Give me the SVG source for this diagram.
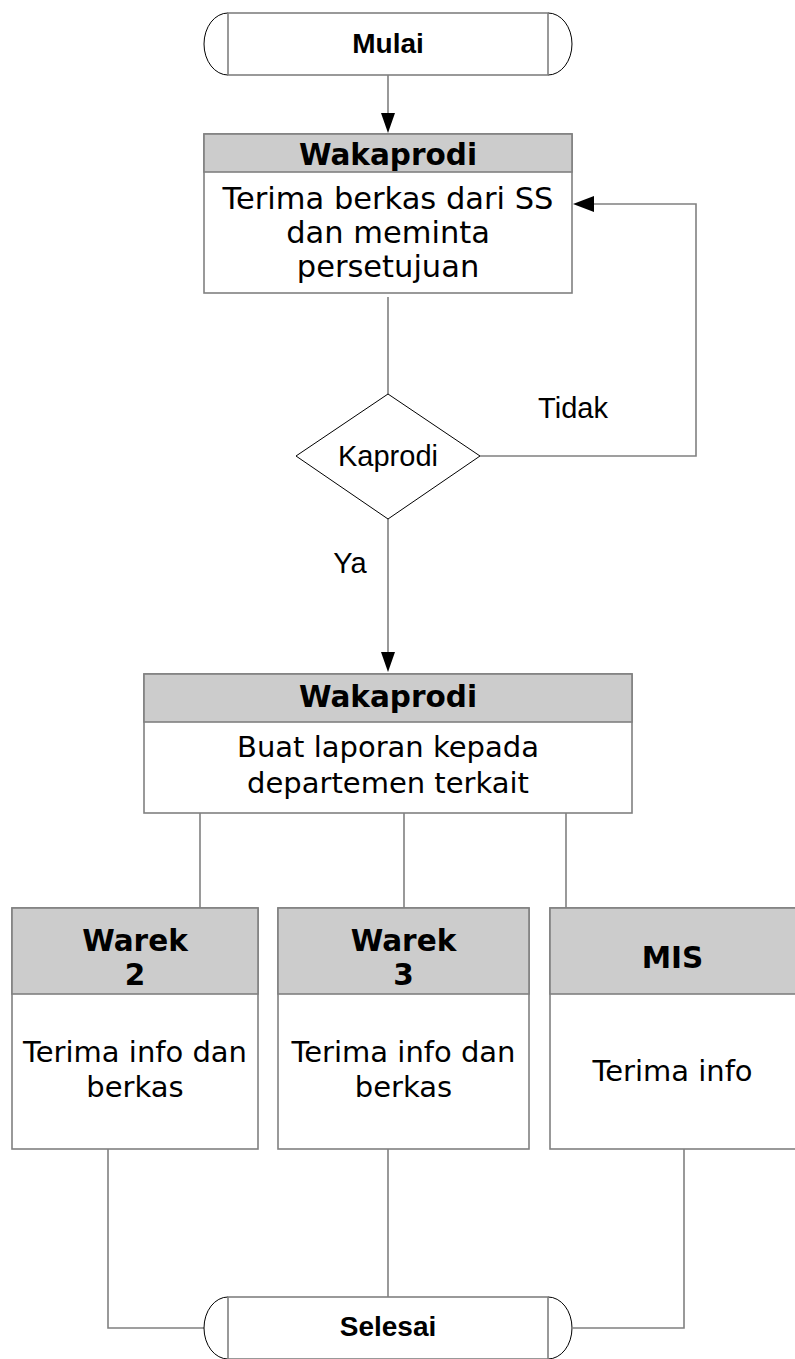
<svg xmlns="http://www.w3.org/2000/svg" width="795" height="1359" viewBox="0 0 795 1359">
<defs>
<style>
.conn{fill:none;stroke:#808080;stroke-width:1.6}
.arrow{fill:#000;stroke:none}
.box{fill:#fff;stroke:#808080;stroke-width:1.6}
.hdr{fill:#cccccc;stroke:#808080;stroke-width:1.6}
.arc{fill:#fff;stroke:#000;stroke-width:1}
.dia{fill:#fff;stroke:#000;stroke-width:1}
.ht{font-family:"DejaVu Sans",Verdana,sans-serif;font-weight:bold;font-size:29.5px;fill:#000;text-anchor:middle}
.bt{font-family:"DejaVu Sans",Verdana,sans-serif;font-size:29px;fill:#000;text-anchor:middle}
.bt2{font-family:"DejaVu Sans",Verdana,sans-serif;font-size:30.5px;fill:#000;text-anchor:middle}
.tt{font-family:"Liberation Sans",Arial,sans-serif;font-weight:bold;font-size:28px;fill:#000;text-anchor:middle}
.lt{font-family:"Liberation Sans",Arial,sans-serif;font-size:29px;fill:#000;text-anchor:middle}
</style>
</defs>
<g id="connectors">
<path class="conn" d="M388,75 V118"/>
<polygon class="arrow" points="381,113 395,113 388,133"/>
<path class="conn" d="M388,297 V394"/>
<path class="conn" d="M480,456 H696 V204 H590"/>
<polygon class="arrow" points="594,196 594,212 573,204"/>
<path class="conn" d="M388,519 V656"/>
<polygon class="arrow" points="381,652 395,652 388,672"/>
<path class="conn" d="M200,813 V908"/>
<path class="conn" d="M404,813 V908"/>
<path class="conn" d="M566,813 V908"/>
<path class="conn" d="M108,1149 V1328 H204"/>
<path class="conn" d="M388,1149 V1297"/>
<path class="conn" d="M684,1149 V1328 H573"/>
<text class="lt" x="573" y="418">Tidak</text>
<text class="lt" x="350" y="573">Ya</text>
</g>
<g id="mulai">
<path class="arc" d="M228,13 A24,31 0 0 0 228,75"/>
<path class="arc" d="M548,13 A24,31 0 0 1 548,75"/>
<rect class="box" x="228" y="13" width="320" height="62"/>
<text class="tt" x="388" y="53">Mulai</text>
</g>
<g id="wakaprodi1">
<rect class="box" x="204" y="134" width="368" height="159"/>
<rect class="hdr" x="204" y="134" width="368" height="38"/>
<text class="ht" x="388" y="165">Wakaprodi</text>
<text class="bt2" x="388" y="209">Terima berkas dari SS</text>
<text class="bt2" x="388" y="243">dan meminta</text>
<text class="bt2" x="388" y="277">persetujuan</text>
</g>
<g id="kaprodi">
<polygon class="dia" points="388,394 480,456 388,519 296,456"/>
<text class="lt" x="388" y="466">Kaprodi</text>
</g>
<g id="wakaprodi2">
<rect class="box" x="144" y="674" width="488" height="139"/>
<rect class="hdr" x="144" y="674" width="488" height="48"/>
<text class="ht" x="388" y="707">Wakaprodi</text>
<text class="bt" x="388" y="757">Buat laporan kepada</text>
<text class="bt" x="388" y="793">departemen terkait</text>
</g>
<g id="warek2">
<rect class="box" x="12" y="908" width="246" height="241"/>
<rect class="hdr" x="12" y="908" width="246" height="86"/>
<text class="ht" x="135" y="951">Warek</text>
<text class="ht" x="135" y="985">2</text>
<text class="bt" x="135" y="1062">Terima info dan</text>
<text class="bt" x="135" y="1097">berkas</text>
</g>
<g id="warek3">
<rect class="box" x="278" y="908" width="251" height="241"/>
<rect class="hdr" x="278" y="908" width="251" height="86"/>
<text class="ht" x="403.5" y="951">Warek</text>
<text class="ht" x="403.5" y="985">3</text>
<text class="bt" x="403.5" y="1062">Terima info dan</text>
<text class="bt" x="403.5" y="1097">berkas</text>
</g>
<g id="mis">
<rect class="box" x="550" y="908" width="246" height="241"/>
<rect class="hdr" x="550" y="908" width="246" height="86"/>
<text class="ht" x="672.5" y="968">MIS</text>
<text class="bt" x="672.5" y="1081">Terima info</text>
</g>
<g id="selesai">
<path class="arc" d="M228,1297 A24,31 0 0 0 228,1359"/>
<path class="arc" d="M548,1297 A24,31 0 0 1 548,1359"/>
<rect class="box" x="228" y="1297" width="320" height="62"/>
<text class="tt" x="388" y="1336">Selesai</text>
</g>
</svg>
